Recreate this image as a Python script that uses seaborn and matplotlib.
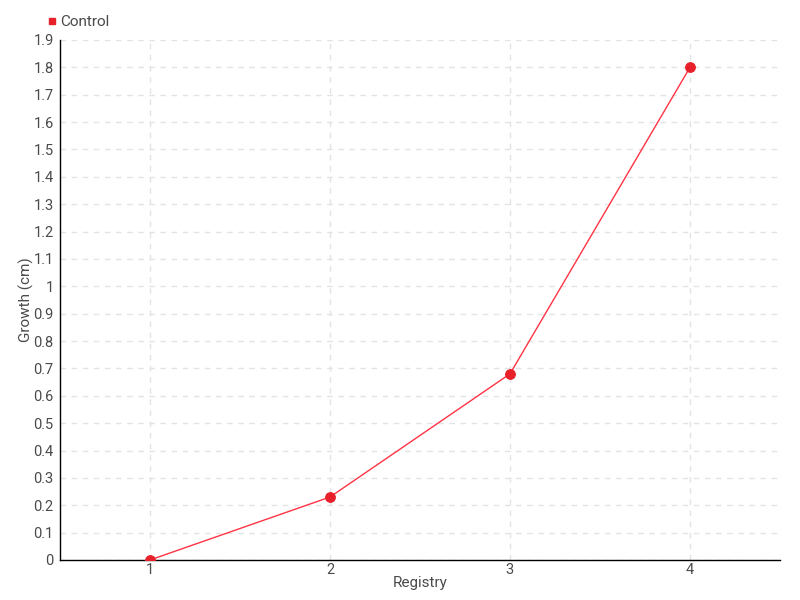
import matplotlib
matplotlib.use("Agg")
import matplotlib.pyplot as plt
import seaborn as sns
import pandas as pd
from matplotlib.lines import Line2D

# data
registry = [1, 2, 3, 4]
growth = [0.0, 0.23, 0.68, 1.80]
yticks = [round(i * 0.1, 1) for i in range(20)]
ytick_labels = ["0", "0.1", "0.2", "0.3", "0.4", "0.5", "0.6", "0.7", "0.8", "0.9",
                "1", "1.1", "1.2", "1.3", "1.4", "1.5", "1.6", "1.7", "1.8", "1.9"]

df = pd.DataFrame({"Registry": registry, "Growth": growth})

sns.set_style("white")
plt.rcParams["font.family"] = ["Roboto", "DejaVu Sans"]
txt = "#4a4a4a"

fig = plt.figure(figsize=(8, 6), dpi=100)
ax = fig.add_axes([0.075, 0.0667, 0.9, 0.8667])

sns.lineplot(data=df, x="Registry", y="Growth", ax=ax, color="#ff3344",
             linewidth=1, marker="o", markersize=7, markerfacecolor="#e8202a",
             markeredgecolor="#e8202a", zorder=3)

ax.set_xlim(0.5, 4.5)
ax.set_ylim(0, 1.9)
ax.set_xticks(registry)
ax.set_xticklabels([str(r) for r in registry])
ax.set_yticks(yticks)
ax.set_yticklabels(ytick_labels)

ax.grid(True, color="#e3e3e3", linestyle=(0, (4, 4)), linewidth=1)
ax.set_axisbelow(True)
sns.despine(ax=ax)
for s in ["left", "bottom"]:
    ax.spines[s].set_color("black")
    ax.spines[s].set_linewidth(1)

ax.tick_params(axis="both", colors="black", labelcolor=txt, labelsize=10.5,
               direction="inout", length=5, width=1, pad=2)
ax.tick_params(axis="x", pad=0)
ax.set_xlabel("Registry", color=txt, fontsize=11, labelpad=-1)
ax.set_ylabel("Growth (cm)", color=txt, fontsize=11)
ax.yaxis.set_label_coords(-0.036, 0.5)

handle = Line2D([], [], marker="s", color="none", markerfacecolor="#e8202a",
                markeredgecolor="#e8202a", markersize=5)
fig.legend([handle], ["Control"], loc="center left", bbox_to_anchor=(0.052, 0.963),
           frameon=False, fontsize=11, labelcolor=txt, handlelength=0.6,
           handletextpad=0.2, borderaxespad=0)

fig.savefig("out.png", dpi=100)
